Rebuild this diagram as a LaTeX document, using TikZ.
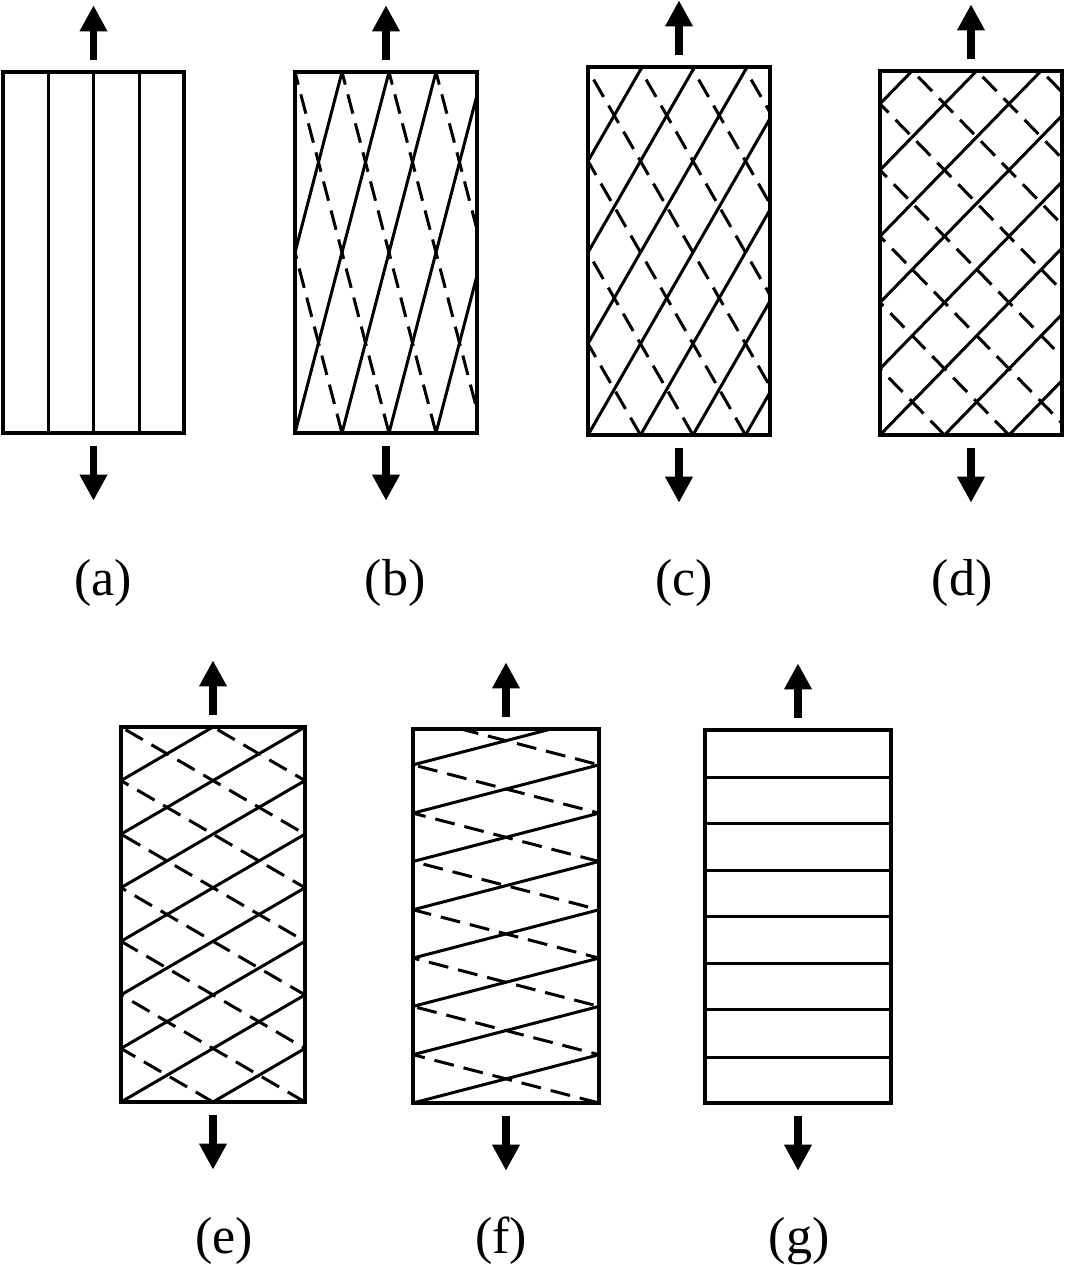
\documentclass[tikz,border=0pt]{standalone}
\usepackage{fontspec}
\setmainfont{Liberation Serif}
\usetikzlibrary{arrows.meta}

\begin{document}
\begin{tikzpicture}[x=0.5pt,y=-0.5pt,
    frame/.style={draw, line width=1.7pt, inner sep=0pt},
    fibre/.style={line width=1.5pt},
    fibredash/.style={line width=1.5pt, dash pattern=on 10pt off 5pt},
    pull/.style={line width=3.6pt, -{Triangle[length=13pt,width=13pt]}},
    tag/.style={anchor=base, font=\fontsize{26}{30}\selectfont}]

  \useasboundingbox (0,0) rectangle (1066,1265);

  \begin{scope}[every node/.style={frame}]
    \node[minimum width=90.5pt, minimum height=180.5pt] (a) at (93.5,252.5) {};
    \node[minimum width=91pt, minimum height=180.5pt] (b) at (386,252.5) {};
    \node[minimum width=91pt, minimum height=184pt] (c) at (679,251) {};
    \node[minimum width=91pt, minimum height=182pt] (d) at (971,253) {};
    \node[minimum width=92pt, minimum height=187.5pt] (e) at (213,914.5) {};
    \node[minimum width=93pt, minimum height=187pt] (f) at (506,916) {};
    \node[minimum width=93pt, minimum height=186.5pt] (g) at (798,916.5) {};
  \end{scope}

  \foreach \p in {a,...,g} {
    \draw[pull] ([yshift=5pt]\p.north) -- ++(0,-55);
    \draw[pull] ([yshift=-5.5pt]\p.south) -- ++(0,55);
  }

  \foreach \x in {48,93,139}
    \draw[fibre] (\x,0 |- a.north) -- (\x,0 |- a.south);

  \begin{scope}
    \clip (b.south west) rectangle (b.north east);
    \foreach \n in {-2,...,3} \draw[fibre] (295+47*\n,433) -- ++(94,-361);
    \foreach \n in {1,...,5} \draw[fibredash] (295+47*\n,433) -- ++(-94,-361);
  \end{scope}

  \begin{scope}
    \clip (c.south west) rectangle (c.north east);
    \foreach \n in {-4,...,3} \draw[fibre] (588+52.5*\n,435) -- ++(211.6,-368);
    \foreach \n in {1,...,7} \draw[fibredash] (588+52.5*\n,435) -- ++(-211.6,-368);
  \end{scope}

  \begin{scope}
    \clip (d.south west) rectangle (d.north east);
    \foreach \n in {-5,...,2} \draw[fibre] (880+64.5*\n,435) -- ++(354.5,-364);
    \foreach \n in {1,...,8} \draw[fibredash] (880+64.5*\n,435) -- ++(-354.5,-364);
  \end{scope}

  \begin{scope}
    \clip (e.south west) rectangle (e.north east);
    \foreach \n in {-7,...,1} \draw[fibre] (121+92*\n,1102) -- ++(644,-375);
    \foreach \n in {1,...,9} \draw[fibredash] (121+92*\n,1102) -- ++(-644,-375);
  \end{scope}

  \begin{scope}
    \clip (f.south west) rectangle (f.north east);
    \foreach \n in {-7,...,0} \draw[fibre] (413+186*\n,1103) -- ++(1440,-374);
    \foreach \n in {1,...,8} \draw[fibredash] (413+186*\n,1103) -- ++(-1440,-374);
  \end{scope}

  \foreach \y in {777,823,870,916,963,1009,1057}
    \draw[fibre] (g.west |- 0,\y) -- (g.east |- 0,\y);

  \begin{scope}[every node/.style={tag}]
    \node (la) at (103,595) {(a)};
    \node (lb) at (395,595) {(b)};
    \node (lc) at (684,595) {(c)};
    \node (ld) at (962,595) {(d)};
    \node (le) at (224,1253) {(e)};
    \node (lf) at (501,1253) {(f)};
    \node (lg) at (799,1253) {(g)};
  \end{scope}

\end{tikzpicture}
\end{document}
